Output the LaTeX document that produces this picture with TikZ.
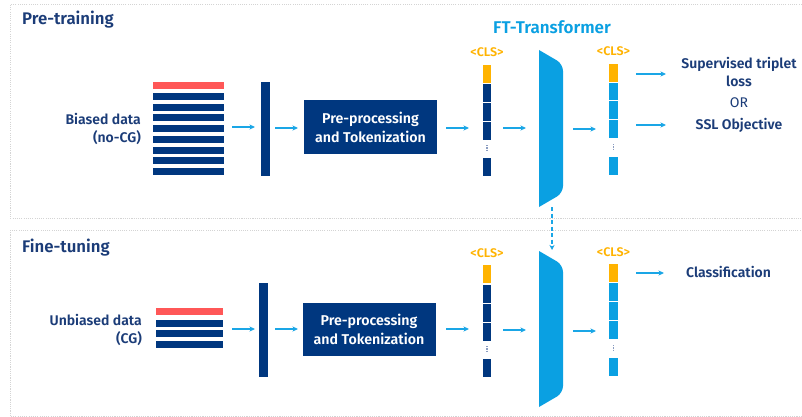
\documentclass[tikz,border=0pt]{standalone}
\usepackage{fontspec}
\setmainfont{Fira Sans}[BoldFont={Fira Sans SemiBold}]
\usetikzlibrary{arrows.meta}
\definecolor{navy}{HTML}{00377F}
\definecolor{txtnavy}{HTML}{1B3C78}
\definecolor{tblue}{HTML}{0AA0E2}
\definecolor{ablue}{HTML}{1AA6E6}
\definecolor{redbar}{HTML}{FF5757}
\definecolor{clsy}{HTML}{FFB300}
\definecolor{dotc}{HTML}{8A9CC0}
\definecolor{panelc}{HTML}{D4D4D4}
\tikzset{
  panel/.style={draw=panelc, line width=1pt, dash pattern=on 1.1pt off 1.1pt},
  title/.style={font=\bfseries\fontsize{16.8}{19}\selectfont, text=txtnavy, anchor=west, inner sep=0pt},
  lbl/.style={font=\bfseries\fontsize{14}{18.5}\selectfont, text=txtnavy, inner sep=0pt},
  vbar/.style={fill=navy, inner sep=0pt, minimum width=9pt, minimum height=94pt},
  ppbox/.style={fill=navy, text=white, inner sep=0pt, minimum width=133pt, minimum height=53pt, align=center, font=\bfseries\fontsize{14.2}{19}\selectfont},
  cls/.style={font=\bfseries\fontsize{12.5}{13}\selectfont, text=clsy, inner sep=0pt},
  flow/.style={draw=ablue, line width=1.3pt, -{Stealth[length=5.5pt,width=5pt,inset=1.5pt]}},
}
\begin{document}
\begin{tikzpicture}[x=1pt,y=-1pt]
\useasboundingbox[fill=white] (0,0) rectangle (802,417);
% panels
\draw[panel] (10,5) rectangle (810,218);
\draw[panel] (10,230) rectangle (810,416);
\node[title] (t1) at (22,20) {Pre-training};
\node[title] (t2) at (22,248) {Fine-tuning};

% ---------- top row ----------
\node[lbl, align=right, anchor=east] (bd) at (141,129) {Biased data\\(no-CG)};
\fill[redbar] (153,82) rectangle (224,89);
\foreach \y in {93,103.7,114.4,125.1,135.8,146.5,157.2,167.9}
  \fill[navy] (153,\y) rectangle (224,\y+7);
\node[vbar] (v1) at (265.5,129) {};
\node[ppbox] (pp1) at (370.5,127) {Pre-processing\\and Tokenization};
% token column 1 (top)
\fill[clsy] (483,65) rectangle (491,83);
\foreach \y in {84,103,122} \fill[navy] (483,\y) rectangle (491,\y+18);
\fill[navy] (483,158) rectangle (491,176);
\draw[dotc, line width=1.6pt, dash pattern=on 1.3pt off 1pt] (487,145) -- (487,151);
\node[cls] (c1) at (487,52) {<CLS>};
% transformer (top)
\fill[tblue] (539,50) [rounded corners=7pt] -- (563,64) -- (563,193) [sharp corners] -- (539,207) -- cycle;
\coordinate (tr1b) at (552,207);
\node[font=\bfseries\fontsize{17}{19}\selectfont, text=tblue, inner sep=0pt] (ft) at (552,27) {FT-Transformer};
% token column 2 (top)
\fill[clsy] (609,64) rectangle (618,82);
\foreach \y in {83,101.5,120} \fill[tblue] (609,\y) rectangle (618,\y+17.5);
\fill[tblue] (609,157) rectangle (618,175);
\draw[dotc, line width=1.6pt, dash pattern=on 1.3pt off 1pt] (613.5,144) -- (613.5,150);
\node[cls] (c2) at (613.5,51) {<CLS>};
% outputs
\node[lbl, align=center] (sup) at (739,72) {Supervised triplet\\loss};
\node[font=\fontsize{14}{16}\selectfont, text=txtnavy, inner sep=0pt] (or) at (739,103) {OR};
\node[lbl] (ssl) at (739,125) {SSL Objective};

% arrows top
\coordinate (a1s) at (232,127); \coordinate (a1e) at (255,127);
\coordinate (a2s) at (275,128); \coordinate (a2e) at (298,128);
\coordinate (a3s) at (446,128); \coordinate (a3e) at (469,128);
\coordinate (a4s) at (503,128); \coordinate (a4e) at (526,128);
\coordinate (a5s) at (573,129); \coordinate (a5e) at (596,129);
\coordinate (a6s) at (636,74);  \coordinate (a6e) at (666,74);
\coordinate (a7s) at (636,125); \coordinate (a7e) at (666,125);
\foreach \s/\e in {a1s/a1e,a2s/a2e,a3s/a3e,a4s/a4e,a5s/a5e,a6s/a6e,a7s/a7e}
  \draw[flow] (\s) -- (\e);

% ---------- bottom row ----------
\node[lbl, align=right, anchor=east] (ud) at (142,330) {Unbiased data\\(CG)};
\fill[redbar] (156,308) rectangle (223,315);
\foreach \y in {320,330.3,341} \fill[navy] (156,\y) rectangle (223,\y+7);
\node[vbar] (v2) at (263,330) {};
\node[ppbox] (pp2) at (369,329) {Pre-processing\\and Tokenization};
% token column 1 (bottom)
\fill[clsy] (483,265) rectangle (491,283);
\foreach \y in {285,304,323} \fill[navy] (483,\y) rectangle (491,\y+18);
\fill[navy] (483,359) rectangle (491,377);
\draw[dotc, line width=1.6pt, dash pattern=on 1.3pt off 1pt] (487,346) -- (487,352);
\node[cls] (c3) at (487,253) {<CLS>};
% transformer (bottom)
\fill[tblue] (539,251) [rounded corners=7pt] -- (563,265) -- (563,393) [sharp corners] -- (539,407) -- cycle;
\coordinate (tr2t) at (552,250);
% token column 2 (bottom)
\fill[clsy] (609,264) rectangle (618,282);
\foreach \y in {283,302,321} \fill[tblue] (609,\y) rectangle (618,\y+17.5);
\fill[tblue] (609,358) rectangle (618,376);
\draw[dotc, line width=1.6pt, dash pattern=on 1.3pt off 1pt] (613.5,345) -- (613.5,351);
\node[cls] (c4) at (613.5,252) {<CLS>};
\node[lbl, anchor=west] (cl) at (686,272) {Classification};

\coordinate (b1s) at (232,329); \coordinate (b1e) at (255,329);
\coordinate (b2s) at (275,329); \coordinate (b2e) at (298,329);
\coordinate (b3s) at (446,329); \coordinate (b3e) at (469,329);
\coordinate (b4s) at (503,330); \coordinate (b4e) at (526,330);
\coordinate (b5s) at (573,331); \coordinate (b5e) at (596,331);
\coordinate (b6s) at (636,273); \coordinate (b6e) at (664,273);
\foreach \s/\e in {b1s/b1e,b2s/b2e,b3s/b3e,b4s/b4e,b5s/b5e,b6s/b6e}
  \draw[flow] (\s) -- (\e);

% weight transfer
\draw[ablue, line width=1.3pt, dash pattern=on 4pt off 2.5pt, -{Stealth[length=5pt,width=5pt,inset=1.5pt]}] (tr1b) -- (tr2t);
\end{tikzpicture}
\end{document}
